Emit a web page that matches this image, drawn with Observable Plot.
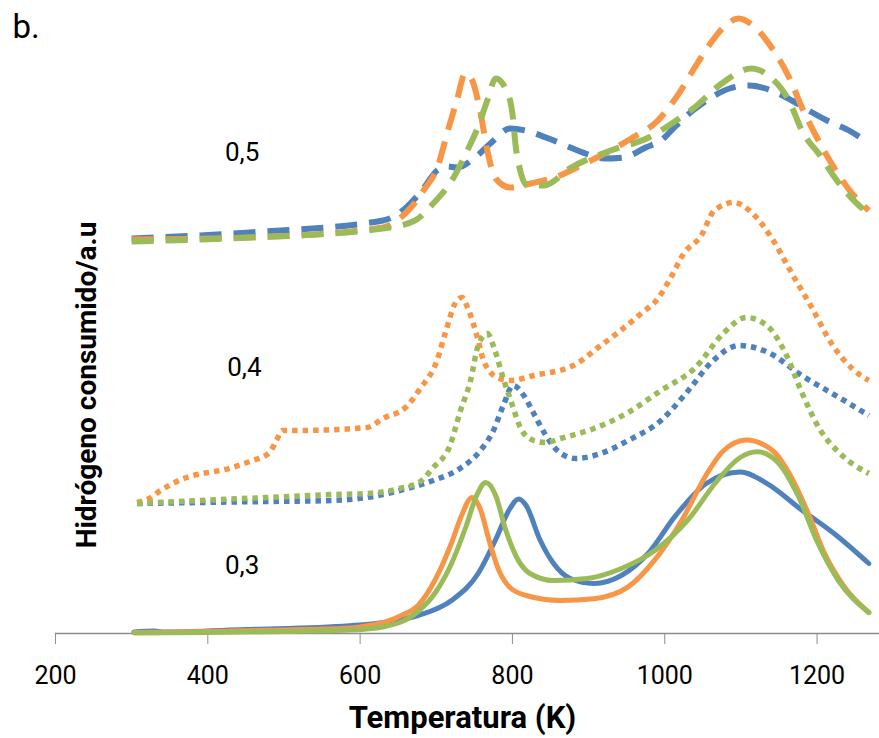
<!DOCTYPE html>
<html>
<head>
<meta charset="utf-8">
<script src="https://cdn.jsdelivr.net/npm/d3@7"></script>
<script src="https://cdn.jsdelivr.net/npm/@observablehq/plot@0.6"></script>
<style>
  body { margin: 0; background: #ffffff; }
  #chart svg { display: block; }
</style>
</head>
<body>
<div id="chart"></div>
<script>
// ---------- Text ----------
const panelLabel = "b.";
const xTitle = "Temperatura (K)";
const yTitle = "Hidrógeno consumido/a.u";
const xTicks = [200, 400, 600, 800, 1000, 1200];

// Group labels (x = 0,3 / 0,4 / 0,5) placed in data coordinates
const groupLabels = ["0,5", "0,4", "0,3"];
const groupLabelTemp = [445, 448, 445];
const groupLabelValue = [4.81, 2.66, 0.68];

// ---------- Data: group 0,3 (solid) ----------
const temp03Blue = [303, 330, 340, 450, 586, 631, 676, 720, 755, 778, 796, 808, 818, 836, 854, 876, 907, 943, 978, 1014, 1054, 1099, 1135, 1179, 1224, 1268];
const h2_03Blue  = [0.015, 0.025, 0.015, 0.04, 0.078, 0.11, 0.18, 0.33, 0.60, 0.94, 1.24, 1.345, 1.28, 0.94, 0.70, 0.55, 0.50, 0.58, 0.80, 1.176, 1.497, 1.615, 1.497, 1.24, 0.99, 0.70];

const temp03Orange = [303, 400, 500, 586, 609, 631, 654, 676, 698, 720, 733, 747, 758, 769, 782, 796, 818, 863, 907, 952, 987, 1023, 1054, 1076, 1107, 1143, 1165, 1188, 1210, 1236, 1268];
const h2_03Orange  = [0.01, 0.02, 0.035, 0.054, 0.078, 0.11, 0.18, 0.28, 0.53, 0.905, 1.176, 1.36, 1.24, 0.94, 0.635, 0.466, 0.38, 0.33, 0.348, 0.466, 0.736, 1.14, 1.58, 1.82, 1.936, 1.82, 1.58, 1.21, 0.80, 0.466, 0.21];

const temp03Green = [303, 400, 500, 586, 631, 676, 698, 720, 739, 753, 765, 778, 791, 805, 823, 854, 898, 943, 987, 1032, 1068, 1099, 1121, 1148, 1175, 1201, 1228, 1268];
const h2_03Green  = [0.005, 0.01, 0.02, 0.034, 0.068, 0.22, 0.40, 0.70, 1.07, 1.38, 1.51, 1.38, 1.04, 0.77, 0.60, 0.53, 0.55, 0.65, 0.83, 1.15, 1.52, 1.76, 1.818, 1.716, 1.38, 0.905, 0.53, 0.21];

// ---------- Data: group 0,4 (dotted) ----------
const temp04Blue = [307, 388, 477, 564, 609, 652, 696, 731, 758, 775, 788, 801, 815, 828, 844, 859, 883, 916, 952, 995, 1031, 1061, 1098, 1136, 1180, 1229, 1268];
const h2_04Blue  = [1.30, 1.31, 1.32, 1.33, 1.36, 1.43, 1.53, 1.65, 1.83, 2.03, 2.28, 2.48, 2.38, 2.20, 1.98, 1.83, 1.75, 1.80, 1.93, 2.13, 2.43, 2.71, 2.88, 2.81, 2.58, 2.36, 2.18];

const temp04Orange = [307, 323, 338, 362, 432, 455, 481, 490, 498, 520, 609, 630, 661, 679, 701, 712, 727, 734, 741, 754, 762, 780, 797, 828, 880, 916, 942, 969, 991, 1008, 1025, 1048, 1065, 1091, 1114, 1140, 1167, 1193, 1219, 1246, 1268];
const h2_04Orange  = [1.31, 1.35, 1.43, 1.53, 1.66, 1.72, 1.81, 1.93, 2.03, 2.03, 2.06, 2.15, 2.27, 2.45, 2.73, 3.01, 3.33, 3.36, 3.26, 2.96, 2.73, 2.56, 2.53, 2.58, 2.68, 2.88, 3.03, 3.20, 3.35, 3.56, 3.80, 3.98, 4.23, 4.31, 4.21, 3.96, 3.60, 3.26, 2.90, 2.65, 2.53];

const temp04Green = [307, 388, 477, 564, 609, 652, 679, 696, 718, 731, 745, 755, 767, 777, 788, 800, 811, 828, 844, 863, 907, 952, 995, 1039, 1078, 1107, 1134, 1160, 1180, 1203, 1233, 1268];
const h2_04Green  = [1.30, 1.33, 1.36, 1.39, 1.40, 1.45, 1.52, 1.66, 1.88, 2.21, 2.53, 2.88, 3.00, 2.83, 2.55, 2.28, 2.05, 1.93, 1.91, 1.95, 2.05, 2.21, 2.43, 2.65, 3.01, 3.16, 3.08, 2.78, 2.41, 2.05, 1.78, 1.60];

// ---------- Data: group 0,5 (dashed) ----------
const temp05Blue = [300, 455, 630, 659, 683, 701, 714, 727, 751, 771, 797, 817, 844, 870, 896, 920, 946, 975, 995, 1015, 1037, 1061, 1085, 1111, 1140, 1167, 1189, 1213, 1242, 1268];
const h2_05Blue  = [3.95, 4.01, 4.13, 4.25, 4.45, 4.63, 4.67, 4.66, 4.76, 4.90, 5.05, 5.03, 4.96, 4.88, 4.80, 4.75, 4.76, 4.86, 4.93, 5.08, 5.23, 5.36, 5.45, 5.48, 5.43, 5.33, 5.23, 5.13, 5.03, 4.90];

const temp05Orange = [300, 455, 630, 652, 669, 685, 701, 716, 727, 738, 746, 758, 767, 778, 797, 824, 859, 890, 916, 956, 991, 1015, 1041, 1058, 1077, 1097, 1120, 1143, 1164, 1182, 1197, 1219, 1246, 1268];
const h2_05Orange  = [3.94, 3.96, 4.06, 4.15, 4.28, 4.45, 4.65, 5.05, 5.33, 5.60, 5.55, 5.21, 4.83, 4.55, 4.46, 4.50, 4.57, 4.68, 4.78, 4.95, 5.13, 5.36, 5.68, 5.88, 6.06, 6.15, 6.05, 5.83, 5.55, 5.23, 5.00, 4.70, 4.40, 4.23];

const temp05Green = [300, 455, 630, 672, 696, 722, 742, 754, 767, 778, 791, 800, 805, 820, 841, 877, 929, 979, 1015, 1039, 1073, 1114, 1136, 1163, 1182, 1202, 1226, 1255, 1268];
const h2_05Green  = [3.92, 3.96, 4.05, 4.13, 4.30, 4.55, 4.85, 5.05, 5.33, 5.55, 5.45, 5.20, 4.83, 4.48, 4.48, 4.66, 4.83, 4.96, 5.13, 5.26, 5.49, 5.65, 5.58, 5.33, 5.00, 4.80, 4.53, 4.28, 4.20];

// ---------- Styles ----------
const colors = { blue: "#4f81bd", orange: "#f79646", green: "#9bbb59" };
const lineStyles = {
  solid:  { strokeWidth: 5, strokeDasharray: null, strokeLinecap: "round" },
  dotted: { strokeWidth: 5.5, strokeDasharray: "5.5,5", strokeLinecap: "butt" },
  dashed: { strokeWidth: 6, strokeDasharray: "22,12", strokeLinecap: "butt" }
};

const seriesList = [
  { style: "solid",  color: "blue",   T: temp03Blue,   H: h2_03Blue },
  { style: "solid",  color: "orange", T: temp03Orange, H: h2_03Orange },
  { style: "solid",  color: "green",  T: temp03Green,  H: h2_03Green },
  { style: "dotted", color: "blue",   T: temp04Blue,   H: h2_04Blue },
  { style: "dotted", color: "orange", T: temp04Orange, H: h2_04Orange },
  { style: "dotted", color: "green",  T: temp04Green,  H: h2_04Green },
  { style: "dashed", color: "blue",   T: temp05Blue,   H: h2_05Blue },
  { style: "dashed", color: "orange", T: temp05Orange, H: h2_05Orange },
  { style: "dashed", color: "green",  T: temp05Green,  H: h2_05Green }
];

const lineMarks = seriesList.map(s => {
  const rows = s.T.map((t, i) => ({ T: t, H: s.H[i] }));
  const st = lineStyles[s.style];
  const opts = {
    x: "T", y: "H",
    stroke: colors[s.color],
    strokeWidth: st.strokeWidth,
    strokeLinecap: st.strokeLinecap,
    strokeLinejoin: "round",
    curve: "monotone-x"
  };
  if (st.strokeDasharray) opts.strokeDasharray = st.strokeDasharray;
  return Plot.line(rows, opts);
});

const labelRows = groupLabels.map((t, i) => ({ text: t, T: groupLabelTemp[i], H: groupLabelValue[i] }));

const chart = Plot.plot({
  width: 879,
  height: 738,
  marginLeft: 55,
  marginRight: 0,
  marginTop: 0,
  marginBottom: 105,
  x: { domain: [200, 1282] },
  y: { domain: [0, 6.33], axis: null },
  style: { fontFamily: "Roboto, sans-serif", color: "#000", background: "#fff", overflow: "visible" },
  marks: [
    Plot.ruleY([0], { stroke: "#8c8c8c", strokeWidth: 1.5 }),
    Plot.axisX({ ticks: xTicks, tickSize: 11, tickPadding: 22, fontSize: 25, stroke: "#8c8c8c", label: null, tickFormat: d => String(d) }),
    ...lineMarks,
    Plot.text(labelRows, { x: "T", y: "H", text: "text", fontSize: 26, fill: "#000" }),
    Plot.text([xTitle], { frameAnchor: "bottom", textAnchor: "middle", lineAnchor: "top", dx: -5, dy: 72, fontSize: 31, fontWeight: "bold", fill: "#000" }),
    Plot.text([yTitle], { frameAnchor: "left", textAnchor: "middle", lineAnchor: "middle", rotate: -90, dx: 32, dy: 68, fontSize: 28, fontWeight: "bold", fill: "#000" }),
    Plot.text([panelLabel], { frameAnchor: "top-left", textAnchor: "start", lineAnchor: "top", dx: -43, dy: 14, fontSize: 33, fill: "#000" })
  ]
});

document.getElementById("chart").appendChild(chart);
</script>
</body>
</html>
